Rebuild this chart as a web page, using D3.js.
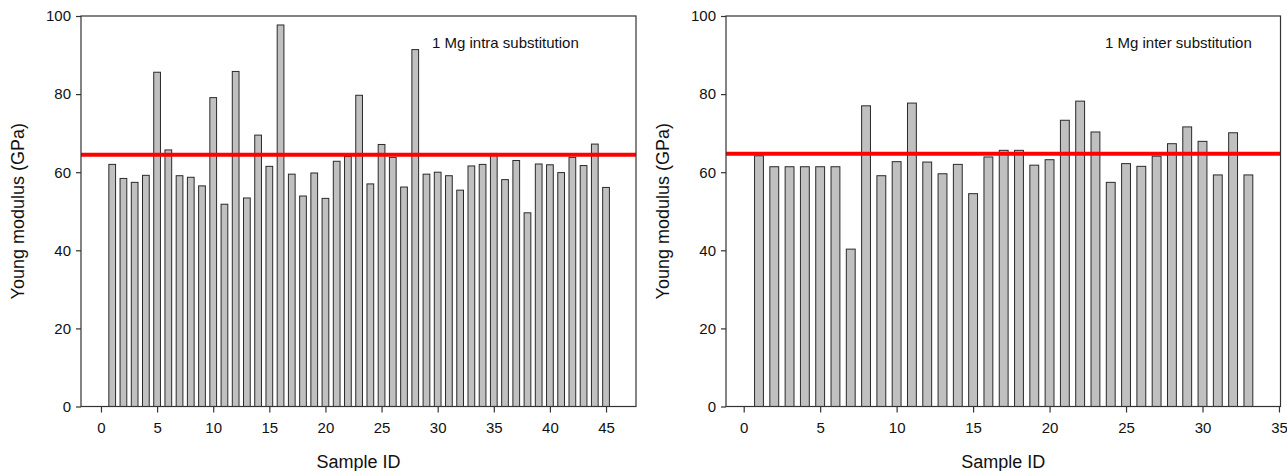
<!DOCTYPE html>
<html>
<head>
<meta charset="utf-8">
<script src="https://cdn.jsdelivr.net/npm/d3@7"></script>
<style>
  html, body { margin: 0; padding: 0; background: #fff; }
  svg { display: block; font-family: Arial, "Liberation Sans", sans-serif; }
</style>
</head>
<body>
<svg id="chart" width="1287" height="471"></svg>
<script>
// ---- Data ----
const intraIds = d3.range(1, 46);
const intraValues = [62.0, 58.4, 57.4, 59.2, 85.6, 65.7, 59.1, 58.7, 56.5, 79.1,
                     51.8, 85.8, 53.4, 69.5, 61.5, 97.7, 59.5, 53.9, 59.8, 53.3,
                     62.8, 64.0, 79.7, 57.0, 67.1, 63.8, 56.2, 91.4, 59.5, 60.0,
                     59.1, 55.4, 61.6, 62.0, 64.8, 58.1, 63.0, 49.6, 62.1, 61.9,
                     59.9, 63.8, 61.7, 67.2, 56.1];
const intraReference = 64.5;
const intraLabel = "1 Mg intra substitution";
const intraXTicks = [0, 5, 10, 15, 20, 25, 30, 35, 40, 45];

const interIds = d3.range(1, 34);
const interValues = [64.2, 61.4, 61.4, 61.4, 61.4, 61.4, 40.3, 77.0, 59.1, 62.7,
                     77.7, 62.6, 59.6, 62.0, 54.5, 63.9, 65.6, 65.6, 61.8, 63.2,
                     73.3, 78.2, 70.3, 57.4, 62.2, 61.5, 64.1, 67.3, 71.6, 67.9,
                     59.3, 70.1, 59.3];
const interReference = 64.7;
const interLabel = "1 Mg inter substitution";
const interXTicks = [0, 5, 10, 15, 20, 25, 30, 35];

const yTicks = [0, 20, 40, 60, 80, 100];
const xTitle = "Sample ID";
const yTitle = "Young modulus (GPa)";

// ---- Drawing ----
const svg = d3.select("#chart");

function panel(cfg) {
  const g = svg.append("g");
  const x = d3.scaleLinear().domain(cfg.xDomain).range([cfg.left, cfg.right]);
  const y = d3.scaleLinear().domain([0, 100]).range([cfg.bottom, cfg.top]);

  // bars
  const bw = x(cfg.barWidth) - x(0);
  g.selectAll("rect.bar")
    .data(cfg.ids.map((id, i) => ({ id, v: cfg.values[i] })))
    .enter().append("rect")
    .attr("class", "bar")
    .attr("x", d => x(d.id) - bw / 2)
    .attr("width", bw)
    .attr("y", d => y(d.v))
    .attr("height", d => y(0) - y(d.v))
    .attr("fill", "#c0c0c0")
    .attr("stroke", "#2a2a2a")
    .attr("stroke-width", 1);

  // reference line
  g.append("line")
    .attr("x1", cfg.left).attr("x2", cfg.right)
    .attr("y1", y(cfg.reference)).attr("y2", y(cfg.reference))
    .attr("stroke", "#ff0000").attr("stroke-width", 4);

  // frame
  g.append("rect")
    .attr("x", cfg.left).attr("y", cfg.top)
    .attr("width", cfg.right - cfg.left).attr("height", cfg.bottom - cfg.top)
    .attr("fill", "none").attr("stroke", "#333").attr("stroke-width", 1.2);

  // axes
  const xAxis = d3.axisBottom(x).tickValues(cfg.xTicks).tickSize(6).tickPadding(10).tickSizeOuter(0);
  const gx = g.append("g").attr("transform", `translate(0,${cfg.bottom})`).call(xAxis);
  const yAxis = d3.axisLeft(y).tickValues(yTicks).tickSize(5).tickPadding(5).tickSizeOuter(0);
  const gy = g.append("g").attr("transform", `translate(${cfg.left},0)`).call(yAxis);
  [gx, gy].forEach(a => {
    a.select(".domain").remove();
    a.selectAll(".tick line").attr("stroke", "#333").attr("stroke-width", 1.2);
    a.selectAll(".tick text").attr("fill", "#111").style("font-size", "15px")
      .style("font-family", "Arial, 'Liberation Sans', sans-serif");
  });

  // titles
  g.append("text")
    .attr("x", (cfg.left + cfg.right) / 2).attr("y", 468)
    .attr("text-anchor", "middle").attr("fill", "#111")
    .style("font-size", "18px").text(xTitle);
  g.append("text")
    .attr("transform", `translate(${cfg.yTitleX},${(cfg.top + cfg.bottom) / 2}) rotate(-90)`)
    .attr("text-anchor", "middle").attr("fill", "#111")
    .style("font-size", "18px").text(yTitle);

  // annotation
  g.append("text")
    .attr("x", cfg.labelX).attr("y", 48)
    .attr("fill", "#111").style("font-size", "15px").text(cfg.label);
}

panel({
  ids: intraIds, values: intraValues, reference: intraReference,
  label: intraLabel, xTicks: intraXTicks,
  xDomain: [-1.78, 47.67], left: 81, right: 636, top: 16, bottom: 406.5,
  barWidth: 0.6, yTitleX: 24, labelX: 432
});
panel({
  ids: interIds, values: interValues, reference: interReference,
  label: interLabel, xTicks: interXTicks,
  xDomain: [-1.157, 35.1], left: 726, right: 1280.5, top: 16, bottom: 406.5,
  barWidth: 0.58, yTitleX: 669, labelX: 1105
});
</script>
</body>
</html>
